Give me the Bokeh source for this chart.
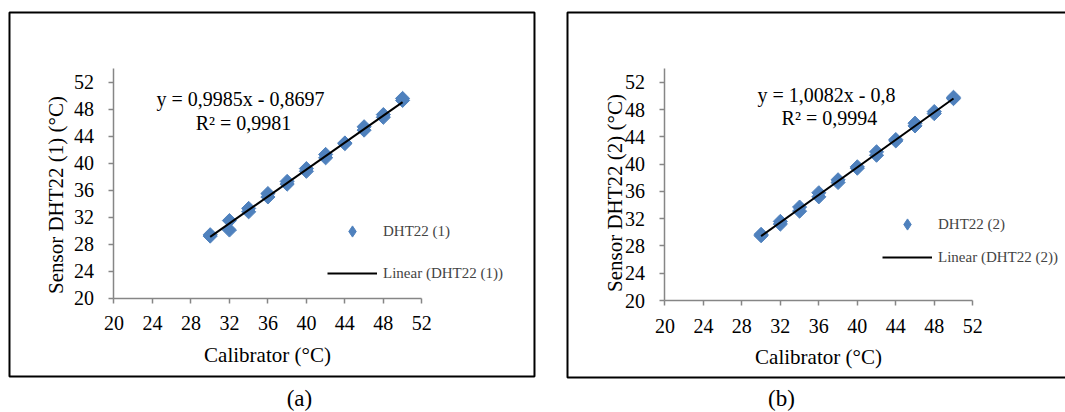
import math
from bokeh.plotting import figure
from bokeh.layouts import row
from bokeh.models import Range1d, FixedTicker, Legend, LegendItem, Label, BoxAnnotation
from bokeh.embed import file_html
from bokeh.resources import INLINE

# ---------------- data ----------------
calibrator_1 = [30, 30, 32, 32, 34, 34, 36, 36, 38, 38, 40, 40, 42, 42, 44, 44, 46, 46, 48, 48, 50, 50]
sensor_1 = [29.2, 29.4, 31.5, 30.1, 33.3, 32.8, 35.5, 35.0, 37.3, 36.9, 39.2, 38.8,
            41.3, 40.8, 43.0, 42.9, 45.4, 44.9, 47.2, 46.8, 49.6, 49.3]
calibrator_2 = [30, 30, 32, 32, 34, 34, 36, 36, 38, 38, 40, 40, 42, 42, 44, 44, 46, 46, 48, 48, 50, 50]
sensor_2 = [29.5, 29.7, 31.6, 31.2, 33.7, 33.1, 35.8, 35.2, 37.7, 37.3, 39.6, 39.4,
            41.8, 41.3, 43.6, 43.4, 46.0, 45.6, 47.7, 47.4, 49.8, 49.6]
slope_1, intercept_1 = 0.9985, -0.8697
slope_2, intercept_2 = 1.0082, -0.8
equation_1 = "y = 0,9985x - 0,8697"
r2_text_1 = "R² = 0,9981"
equation_2 = "y = 1,0082x - 0,8"
r2_text_2 = "R² = 0,9994"
series_1 = "DHT22 (1)"
series_2 = "DHT22 (2)"
x_title = "Calibrator (°C)"
y_title_1 = "Sensor DHT22 (1) (°C)"
y_title_2 = "Sensor  DHT22 (2) (°C)"
caption_1 = "(a)"
caption_2 = "(b)"
tick_values = [20, 24, 28, 32, 36, 40, 44, 48, 52]

BLUE = "#4F81BD"
AXIS = "#868686"
FONT = "'Liberation Serif', serif"


def panel(xs, ys, slope, intercept, eq, r2, name, ytitle, caption, g):
    p = figure(width=g["w"], height=412,
               x_range=Range1d(*g["xr"]), y_range=Range1d(*g["yr"]),
               output_backend="svg", toolbar_location=None, min_border=0)
    p.min_border_left = p.min_border_right = p.min_border_top = p.min_border_bottom = 0
    p.grid.visible = False
    p.outline_line_color = None
    p.background_fill_color = "white"
    p.border_fill_color = "white"

    # black frame around the chart panel
    b = g["box"]
    p.add_layout(BoxAnnotation(left=b[0], right=b[1], bottom=b[2], top=b[3],
                               fill_alpha=0, line_color="black", line_width=2,
                               line_alpha=1))

    for ax, bnd in ((p.xaxis[0], (20, 52)), (p.yaxis[0], (20, 54))):
        ax.fixed_location = 20
        ax.bounds = bnd
        ax.ticker = FixedTicker(ticks=tick_values)
        ax.minor_tick_line_color = None
        ax.axis_line_color = AXIS
        ax.axis_line_width = 1.5
        ax.major_tick_line_color = AXIS
        ax.major_tick_line_width = 1.5
        ax.major_tick_in = 0
        ax.major_tick_out = 5
        ax.major_label_text_font = FONT
        ax.major_label_text_font_size = "20px"
        ax.major_label_text_color = "black"
        ax.axis_label_text_font = FONT
        ax.axis_label_text_font_size = "21px"
        ax.axis_label_text_font_style = "normal"
        ax.axis_label_text_color = "black"
    p.xaxis[0].axis_label = x_title
    p.xaxis[0].major_label_standoff = 13
    p.xaxis[0].axis_label_standoff = 9
    p.yaxis[0].major_label_standoff = g["ylstand"]

    # y-axis title, centred like the reference's title box
    p.add_layout(Label(x=g["yt"][0], y=g["yt"][1], text=ytitle, angle=math.pi / 2,
                       text_align="center", text_baseline="middle", text_font=FONT,
                       text_font_size="21px", text_color="black"))

    sc = p.scatter(xs, ys, marker="square", angle=math.pi / 4, size=10,
                   fill_color=BLUE, line_color=BLUE)
    # hidden twin used only for the legend symbol (Bokeh does not rotate legend markers)
    proxy = p.scatter(xs, ys, marker="diamond", size=10, visible=False,
                      fill_color=BLUE, line_color=BLUE)
    fx = [min(xs), max(xs)]
    fy = [slope * v + intercept for v in fx]
    ln = p.line(fx, fy, line_color="black", line_width=2)

    for txt, (lx, ly) in ((eq, g["eq"]), (r2, g["r2"])):
        p.add_layout(Label(x=lx, y=ly, text=txt, text_align="center",
                           text_baseline="middle", text_font=FONT,
                           text_font_size="20px", text_color="black"))

    legend = Legend(items=[LegendItem(label=name, renderers=[proxy]),
                           LegendItem(label="Linear (" + name + ")", renderers=[ln])],
                    location=g["leg"], glyph_width=50, glyph_height=28,
                    label_height=20, spacing=g["legsp"], padding=0, margin=0,
                    border_line_color=None, background_fill_alpha=0,
                    label_text_font=FONT, label_text_font_size="15px",
                    label_standoff=6)
    p.add_layout(legend)

    # panel caption below the framed chart
    p.add_layout(Label(x=g["cap"][0], y=g["cap"][1], text=caption, text_align="center",
                       text_baseline="middle", text_font=FONT,
                       text_font_size="23px", text_color="black"))
    return p


geom_1 = dict(w=550, xr=(8.202, 65.375), yr=(3.067, 64.104),
              box=(9.137, 63.71, 8.40, 62.33),
              ylstand=15, yt=(13.92, 35.29), eq=(33.15, 49.44), r2=(33.46, 45.93),
              leg=(327, 125), legsp=14, cap=(39.28, 5.215))
geom_2 = dict(w=515, xr=(8.108, 61.642), yr=(3.578, 63.988),
              box=(9.875, 62.5, 8.71, 62.23),
              ylstand=15, yt=(14.80, 36.15), eq=(36.8, 50.2), r2=(37.1, 46.7),
              leg=(332, 141), legsp=5, cap=(32.12, 5.704))

p1 = panel(calibrator_1, sensor_1, slope_1, intercept_1, equation_1, r2_text_1,
           series_1, y_title_1, caption_1, geom_1)
p2 = panel(calibrator_2, sensor_2, slope_2, intercept_2, equation_2, r2_text_2,
           series_2, y_title_2, caption_2, geom_2)

layout = row(p1, p2)
open("out.html", "w").write(file_html(layout, INLINE))
